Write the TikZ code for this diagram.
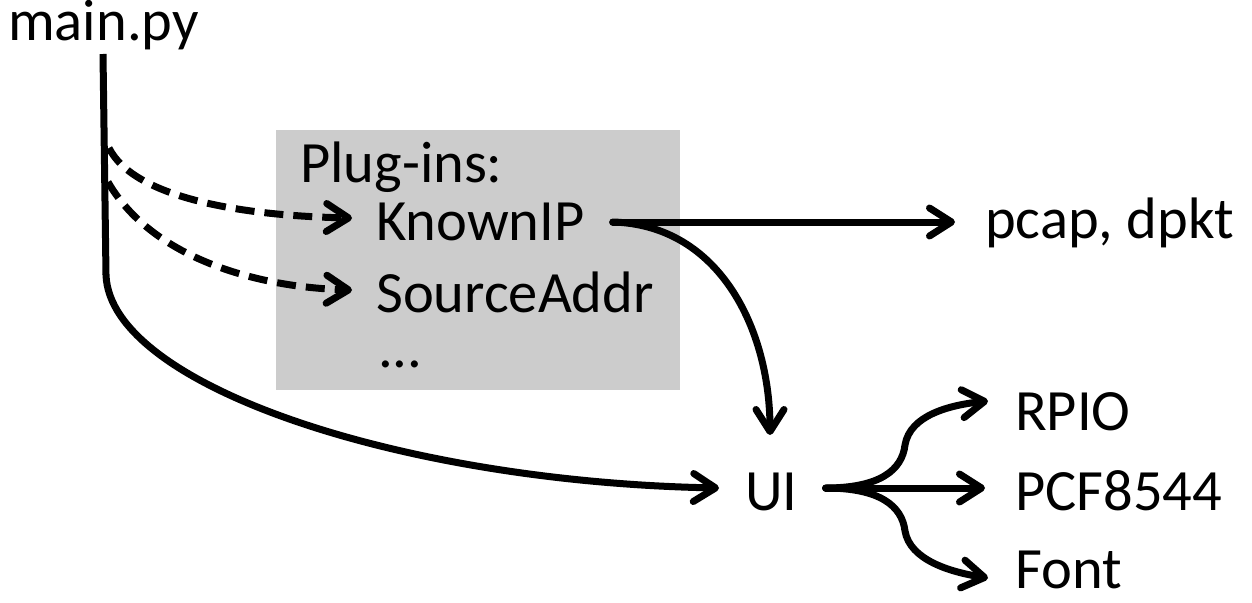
\documentclass[tikz,border=0pt]{standalone}
\usepackage{fontspec}
\setmainfont{Carlito}
\usetikzlibrary{arrows.meta}
\definecolor{boxgrey}{HTML}{CCCCCC}
\tikzset{
  lbl/.style={inner sep=0pt, anchor=base west, font=\fontsize{58.5}{62}\selectfont},
  conn/.style={line width=7pt, line cap=round, -{Straight Barb[length=22pt,width=28pt,round]}},
  dconn/.style={conn, dash pattern=on 19pt off 10pt, line cap=butt},
}
\begin{document}
\begin{tikzpicture}[x=1pt,y=-1pt]
\useasboundingbox (0,0) rectangle (1252,602);
\node[fill=boxgrey, minimum width=404pt, minimum height=260pt, inner sep=0pt, anchor=north west] (box) at (276,130) {};
\node[lbl] (main) at (8,41) {main.py};
\node[lbl] (plug) at (300,182) {Plug-ins:};
\node[lbl] (known) at (376,240) {KnownIP};
\node[lbl] (src) at (376,312) {SourceAddr};
\node[lbl] (dots) at (378,367) {...};
\node[lbl] (pcap) at (985,238) {pcap, dpkt};
\node[lbl] (ui) at (745,510) {UI};
\node[lbl] (rpio) at (1015,430) {RPIO};
\node[lbl] (pcf) at (1015,510) {PCF8544};
\node[lbl] (font) at (1015,588) {Font};
% main line
\coordinate (m0) at (103,54);
\coordinate (mb) at (106,275);
\draw[line width=7pt] (m0) -- (mb);
\draw[conn] (mb) .. controls (110,385) and (400,482) .. ([xshift=-26pt]ui.west |- 0,488);
% dashed
\draw[dconn] (109,148) .. controls (135,200) and (250,216) .. ([xshift=-24pt]known.west |- 0,218);
\draw[dconn] (108,182) .. controls (150,255) and (250,287) .. ([xshift=-24pt]src.west |- 0,290);
% knownIP
\coordinate (k0) at ([xshift=28pt]known.east |- 0,222);
\draw[conn] (k0) -- ([xshift=-30pt]pcap.west |- 0,222);
\draw[conn] (k0) .. controls (720,225) and (770,330) .. (770,435);
% UI branches
\coordinate (u0) at ([xshift=28pt]ui.east |- 0,488);
\draw[conn] (u0) -- ([xshift=-30pt]pcf.west |- 0,488);
\draw[conn] (u0) .. controls (880,488) and (902,470) .. (905,445) .. controls (910,415) and (950,405) .. ([xshift=-27pt]rpio.west |- 0,401);
\draw[conn] (u0) .. controls (880,488) and (902,506) .. (905,531) .. controls (910,560) and (950,572) .. ([xshift=-27pt]font.west |- 0,578);
\end{tikzpicture}
\end{document}
